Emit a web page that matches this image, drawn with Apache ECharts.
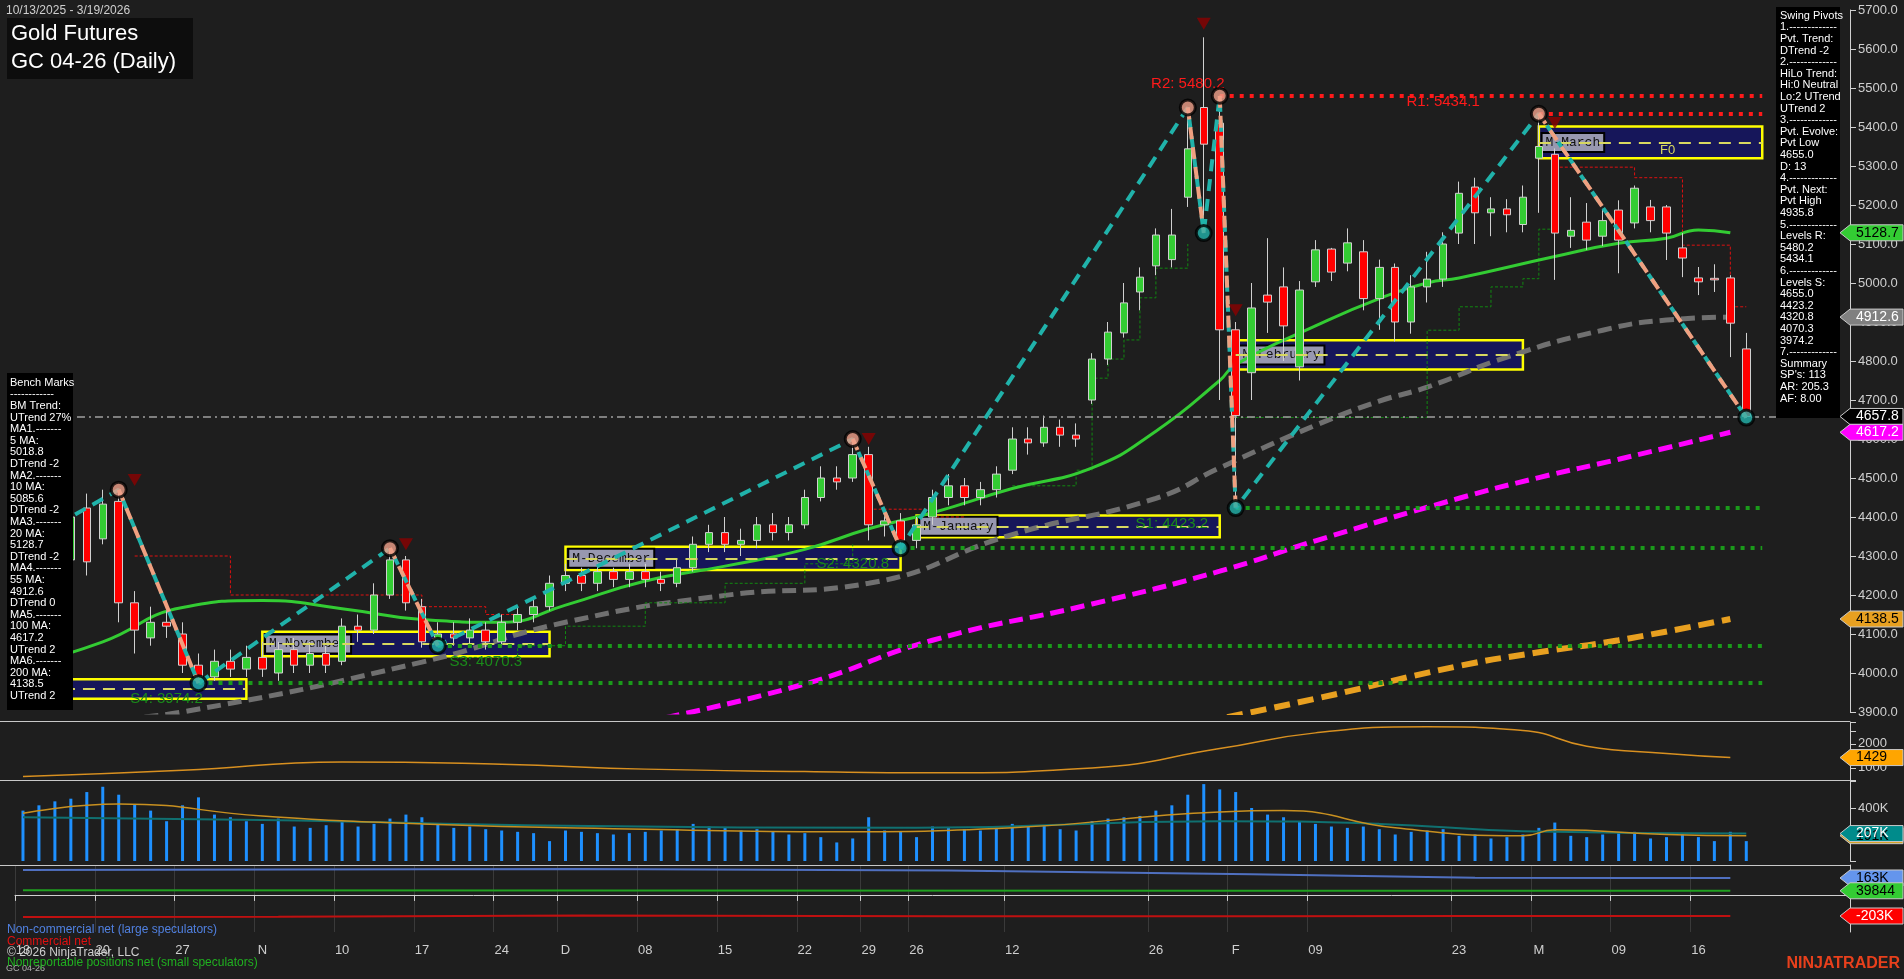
<!DOCTYPE html>
<html>
<head>
<meta charset="utf-8">
<script src="https://cdn.jsdelivr.net/npm/echarts@6/dist/echarts.min.js"></script>
<style>
  html, body { margin: 0; padding: 0; background: #1e1e1e; }
  #chart { width: 1904px; height: 979px; }
</style>
</head>
<body>
<div id="chart"></div>
<script>
const dates = [
  '2025-10-13','2025-10-14','2025-10-15','2025-10-16','2025-10-17','2025-10-20','2025-10-21','2025-10-22','2025-10-23','2025-10-24',
  '2025-10-27','2025-10-28','2025-10-29','2025-10-30','2025-10-31',
  '2025-11-03','2025-11-04','2025-11-05','2025-11-06','2025-11-07','2025-11-10','2025-11-11','2025-11-12','2025-11-13','2025-11-14',
  '2025-11-17','2025-11-18','2025-11-19','2025-11-20','2025-11-21','2025-11-24','2025-11-25','2025-11-26','2025-11-28',
  '2025-12-01','2025-12-02','2025-12-03','2025-12-04','2025-12-05','2025-12-08','2025-12-09','2025-12-10','2025-12-11','2025-12-12',
  '2025-12-15','2025-12-16','2025-12-17','2025-12-18','2025-12-19','2025-12-22','2025-12-23','2025-12-24','2025-12-26','2025-12-29',
  '2025-12-30','2025-12-31',
  '2026-01-02','2026-01-05','2026-01-06','2026-01-07','2026-01-08','2026-01-09','2026-01-12','2026-01-13','2026-01-14','2026-01-15',
  '2026-01-16','2026-01-20','2026-01-21','2026-01-22','2026-01-23','2026-01-26','2026-01-27','2026-01-28','2026-01-29','2026-01-30',
  '2026-02-02','2026-02-03','2026-02-04','2026-02-05','2026-02-06','2026-02-09','2026-02-10','2026-02-11','2026-02-12','2026-02-13',
  '2026-02-17','2026-02-18','2026-02-19','2026-02-20','2026-02-23','2026-02-24','2026-02-25','2026-02-26','2026-02-27',
  '2026-03-02','2026-03-03','2026-03-04','2026-03-05','2026-03-06','2026-03-09','2026-03-10','2026-03-11','2026-03-12','2026-03-13',
  '2026-03-16','2026-03-17','2026-03-18','2026-03-19'
];
const padCats = ['p1','p2','p3','p4','p5','p6'];

// [open, close, low, high]
const ohlc = [
  [4190,4260,4170,4280],[4260,4330,4240,4350],[4330,4290,4270,4370],[4290,4400,4280,4420],[4423,4285,4250,4460],
  [4344,4433,4330,4470],[4440,4180,4130,4470],[4180,4110,4050,4210],[4090,4130,4070,4170],[4130,4120,4090,4160],
  [4100,4020,4000,4130],[4020,3990,3974,4050],[3990,4030,3980,4060],[4030,4010,3990,4060],[4010,4040,3990,4070],
  [4040,4010,3990,4080],[4000,4060,3980,4080],[4060,4020,4000,4090],[4020,4050,4000,4080],[4050,4020,4000,4070],
  [4030,4120,4020,4140],[4120,4110,4080,4150],[4110,4200,4100,4230],[4200,4290,4190,4320],[4290,4180,4160,4300],
  [4170,4080,4065,4190],[4080,4100,4070,4130],[4100,4090,4070,4130],[4090,4110,4070,4140],[4110,4080,4060,4130],
  [4080,4130,4070,4150],[4130,4150,4110,4170],[4150,4170,4130,4190],[4170,4230,4160,4250],
  [4230,4250,4210,4280],[4250,4230,4210,4270],[4230,4260,4210,4280],[4260,4240,4220,4270],[4240,4260,4220,4280],
  [4260,4240,4220,4280],[4240,4230,4210,4260],[4230,4270,4220,4290],[4270,4330,4260,4350],[4330,4360,4310,4380],
  [4360,4330,4310,4400],[4330,4340,4300,4370],[4340,4380,4320,4400],[4380,4360,4340,4410],[4360,4380,4340,4400],
  [4380,4450,4370,4470],[4450,4500,4440,4530],[4500,4490,4470,4530],[4500,4560,4490,4600],[4560,4380,4340,4580],
  [4380,4390,4350,4420],[4390,4340,4320,4410],
  [4340,4380,4320,4400],[4400,4450,4380,4470],[4450,4480,4430,4510],[4480,4450,4430,4500],[4450,4470,4430,4490],
  [4470,4510,4450,4530],[4520,4600,4510,4630],[4600,4590,4560,4630],[4590,4630,4580,4660],[4630,4610,4580,4650],
  [4610,4600,4580,4640],[4700,4805,4690,4820],[4805,4874,4790,4900],[4872,4949,4860,5000],[4977,5015,4930,5040],
  [5044,5123,5020,5140],[5060,5123,5040,5190],[5220,5344,5195,5450],[5450,5356,5128,5630],[5410,4880,4700,5480],
  [4880,4660,4423,4900],[4770,4936,4700,5000],[4969,4951,4872,5115],[4990,4890,4800,5040],[4785,4982,4750,5005],
  [5003,5085,4990,5110],[5087,5028,5005,5090],[5051,5103,5030,5140],[5080,4960,4930,5110],[4960,5040,4880,5060],
  [5040,4900,4850,5050],[4900,4990,4870,5020],[4990,5010,4950,5080],[5010,5100,4990,5130],[5128,5230,5100,5260],
  [5246,5180,5100,5270],[5180,5190,5120,5220],[5190,5175,5130,5215],[5150,5220,5130,5250],
  [5320,5350,5180,5436],[5330,5128,5008,5345],[5120,5135,5090,5220],[5156,5110,5085,5205],[5120,5160,5095,5190],
  [5187,5110,5025,5212],[5154,5243,5140,5250],[5195,5160,5130,5213],[5195,5128,5059,5200],[5090,5064,5015,5128],
  [5013,5003,4969,5041],[5012,5008,4977,5048],[5013,4897,4810,5020],[4831,4657.8,4655,4872]
];

const volume = [
  380,420,450,470,520,560,500,430,380,300,420,480,350,330,300,
  280,320,260,250,270,300,260,280,320,350,330,280,250,260,240,230,220,210,150,
  230,220,210,200,210,220,230,240,280,260,250,230,240,220,200,210,180,140,170,330,230,220,
  180,260,250,240,230,250,280,260,270,240,230,300,320,330,340,380,420,500,580,540,
  520,400,350,330,300,280,260,250,260,240,200,220,230,240,190,200,170,180,200,
  250,290,190,180,200,210,220,170,180,200,180,150,220,150
].map(v => v * 1000);

const ma20 = [['2025-10-13',4018],['2025-10-20',4080],['2025-10-27',4168],['2025-11-03',4186],['2025-11-10',4165],
  ['2025-11-17',4137],['2025-11-24',4130],['2025-12-01',4174],['2025-12-08',4236],['2025-12-15',4274],['2025-12-22',4317],
  ['2025-12-29',4370],['2026-01-05',4411],['2026-01-12',4473],['2026-01-20',4526],['2026-01-26',4620],['2026-01-30',4750],
  ['2026-02-02',4791],['2026-02-09',4890],['2026-02-13',4960],['2026-02-19',5000],['2026-02-23',5013],['2026-03-03',5068],
  ['2026-03-09',5102],['2026-03-12',5115],['2026-03-16',5136],['2026-03-18',5128.7]];
const ma55 = [['2025-10-20',3881],['2025-10-27',3900],['2025-11-17',4028],['2025-12-01',4130],['2025-12-15',4199],
  ['2025-12-29',4230],['2026-01-12',4355],['2026-01-26',4448],['2026-01-30',4526],['2026-02-09',4635],['2026-02-13',4697],
  ['2026-02-19',4733],['2026-02-26',4810],['2026-03-06',4879],['2026-03-12',4905],['2026-03-18',4912.6]];
const ma100 = [['2025-12-08',3875],['2025-12-22',3972],['2026-01-05',4084],['2026-01-20',4177],['2026-01-30',4261],
  ['2026-02-09',4339],['2026-02-23',4448],['2026-03-02',4501],['2026-03-09',4548],['2026-03-18',4617.2]];
const ma200 = [['2026-01-29',3875],['2026-02-09',3934],['2026-02-23',4018],['2026-03-02',4053],['2026-03-09',4084],
  ['2026-03-18',4138.5]];

// trailing stop steps
const stopRed = [['2025-10-22',4300],['2025-10-29',4300],['2025-10-30',4200],['2025-11-14',4200],['2025-11-17',4170],
  ['2025-11-20',4170],['2025-11-21',4150],['2025-11-25',4150],null,['2025-12-29',4420],['2026-01-02',4420],['2026-01-05',4400],
  ['2026-01-07',4400],null,['2026-03-03',5297],['2026-03-09',5297],['2026-03-10',5270],['2026-03-12',5270],
  ['2026-03-13',5097],['2026-03-17',5097],['2026-03-18',4939],['2026-03-19',4939]];
const stopGreen = [['2025-11-19',4040],['2025-11-24',4040],['2025-11-25',4070],['2025-12-01',4120],['2025-12-08',4180],
  ['2025-12-15',4230],['2025-12-22',4280],['2025-12-26',4330],null,['2026-01-12',4480],['2026-01-16',4520],['2026-01-20',4756],
  ['2026-01-21',4805],['2026-01-22',4854],['2026-01-23',4962],['2026-01-26',5038],['2026-01-28',5100],null,
  ['2026-02-02',4655],['2026-02-18',4655],['2026-02-19',4879],['2026-02-23',4939],['2026-02-25',4990],['2026-02-27',5011],
  ['2026-03-02',5138],['2026-03-03',5138]];

const swingLines = [['2025-10-13',4330],['2025-10-21',4470],['2025-10-28',3974],['2025-11-13',4320],['2025-11-18',4070],
  ['2025-12-26',4600],['2025-12-31',4320],['2026-01-28',5450],['2026-01-29',5128],['2026-01-30',5480],['2026-02-02',4423],
  ['2026-03-02',5434],['2026-03-19',4655]];
const swingHighs = [['2025-10-21',4470],['2025-11-13',4320],['2025-12-26',4600],['2026-01-28',5450],['2026-01-30',5480],['2026-03-02',5434]];
const swingLows = [['2025-10-28',3974],['2025-11-18',4070],['2025-12-31',4320],['2026-01-29',5128],['2026-02-02',4423],['2026-03-19',4655]];
const downArrows = [['2025-10-22',4495],['2025-11-14',4330],['2025-12-29',4600],['2026-01-29',5665],['2026-02-02',4930],['2026-03-03',5410]];

const levelsR = [['R2: 5480.2',5480.2,'2026-01-30'],['R1: 5434.1',5434.1,'2026-03-02']];
const levelsS = [['S1: 4423.2',4423.2,'2026-02-02'],['S2: 4320.8',4320.8,'2025-12-31'],['S3: 4070.3',4070.3,'2025-11-18'],['S4: 3974.2',3974.2,'2025-10-28']];
const lastPrice = 4657.8;

const months = [
  ['', '2025-10-13','2025-10-31',3934,3984],
  ['M-November','2025-11-03','2025-11-28',4043,4106],
  ['M-December','2025-12-01','2025-12-31',4264,4324],
  ['M-January','2026-01-02','2026-01-30',4348,4404],
  ['M-February','2026-02-02','2026-02-27',4778,4853],
  ['M-March','2026-03-02','p1',5320,5401]
];

const adx = [['2025-10-13',640],['2025-10-27',900],['2025-11-10',1250],['2025-11-24',1150],['2025-12-08',950],
  ['2025-12-22',850],['2026-01-05',800],['2026-01-20',1000],['2026-01-30',1800],['2026-02-09',2450],['2026-02-19',2700],
  ['2026-02-27',2550],['2026-03-05',1900],['2026-03-12',1600],['2026-03-18',1429]];
const volAvgLong = [['2025-10-13',330000],['2025-11-03',310000],['2025-12-01',265000],['2026-01-02',250000],
  ['2026-01-30',300000],['2026-02-13',280000],['2026-02-27',225000],['2026-03-19',207000]];
const volAvgShort = [['2025-10-13',360000],['2025-10-21',430000],['2025-11-03',340000],['2025-11-17',280000],
  ['2025-12-08',240000],['2025-12-24',220000],['2026-01-12',250000],['2026-01-30',370000],['2026-02-05',380000],
  ['2026-02-17',250000],['2026-02-27',190000],['2026-03-03',235000],['2026-03-12',200000],['2026-03-19',191000]];
const cotLarge = [['2025-10-13',240000],['2025-11-04',245000],['2025-12-02',250000],['2026-01-06',235000],
  ['2026-02-03',200000],['2026-02-24',165000],['2026-03-10',163000],['2026-03-18',163000]];
const cotComm = [['2025-10-13',-212000],['2025-11-04',-210000],['2025-12-02',-198000],['2026-01-06',-206000],
  ['2026-02-03',-205000],['2026-02-24',-203000],['2026-03-18',-203000]];
const cotSmall = [['2025-10-13',45000],['2025-12-02',43000],['2026-02-03',40000],['2026-03-18',39844]];

const tickDates = ['2025-10-13','2025-10-20','2025-10-27','2025-11-03','2025-11-10','2025-11-17','2025-11-24','2025-12-01',
  '2025-12-08','2025-12-15','2025-12-22','2025-12-29','2026-01-02','2026-01-12','2026-01-26','2026-02-02','2026-02-09',
  '2026-02-23','2026-03-02','2026-03-09','2026-03-16'];
const tickLabels = ['13','20','27','N','10','17','24','D','08','15','22','29','26','12','26','F','09','23','M','09','16'];

const benchText = ['Bench Marks','------------','BM Trend:','UTrend 27%','MA1.-------','5 MA:','5018.8','DTrend -2',
  'MA2.-------','10 MA:','5085.6','DTrend -2','MA3.-------','20 MA:','5128.7','DTrend -2','MA4.-------','55 MA:','4912.6',
  'DTrend 0','MA5.-------','100 MA:','4617.2','UTrend 2','MA6.-------','200 MA:','4138.5','UTrend 2'];
const pivotText = ['Swing Pivots','1.-------------','Pvt. Trend:','DTrend -2','2.-------------','HiLo Trend:','Hi:0 Neutral',
  'Lo:2 UTrend','UTrend 2','3.-------------','Pvt. Evolve:','Pvt Low','4655.0','D: 13','4.-------------','Pvt. Next:',
  'Pvt High','4935.8','5.-------------','Levels R:','5480.2','5434.1','6.-------------','Levels S:','4655.0','4423.2',
  '4320.8','4070.3','3974.2','7.-------------','Summary',"SP's: 113",'AR: 205.3','AF: 8.00'];

const cats = dates.concat(padCats);
const tickSet = {};
tickDates.forEach((d, i) => { tickSet[d] = tickLabels[i] });
const isTick = (i, v) => tickSet[v] !== undefined;

const chart = echarts.init(document.getElementById('chart'));
const font = 'Liberation Sans';
const axisCol = '#d0d0d0';
const L = 15;

function xAxisFor(gi, show) {
  return {
    type: 'category', gridIndex: gi, data: cats, boundaryGap: true,
    axisLine: { show: gi === 3, lineStyle: { color: axisCol } },
    axisTick: { show: show, interval: isTick, lineStyle: { color: axisCol }, length: 6 },
    axisLabel: { show: show, interval: isTick, color: '#cfcfcf', fontSize: 13, fontFamily: font, margin: 12,
      formatter: v => tickSet[v] || '' },
    splitLine: { show: gi === 3, interval: isTick, lineStyle: { color: '#3a3a3a' } }
  };
}
function yAxisFor(gi, min, max, interval, fmt) {
  return {
    type: 'value', gridIndex: gi, position: 'right', min: min, max: max, interval: interval,
    axisLine: { show: true, lineStyle: { color: axisCol } },
    axisTick: { show: true, length: 6, inside: false, lineStyle: { color: axisCol } },
    axisLabel: { color: '#cfcfcf', fontSize: 13, fontFamily: font, margin: 8, formatter: fmt },
    splitLine: { show: false }
  };
}

const boxAreas = months.map(m => [{
  name: m[0], xAxis: m[1], yAxis: m[4],
  label: { show: m[0] !== '', position: 'insideLeft', color: '#111', fontFamily: 'Liberation Mono', fontSize: 13,
    backgroundColor: '#9898b0', borderColor: '#000', borderWidth: 2, padding: [2, 3] }
}, { xAxis: m[2], yAxis: m[3] }]);
const boxMids = months.map(m => [{ coord: [m[1], (m[3] + m[4]) / 2] }, { coord: [m[2], (m[3] + m[4]) / 2] }]);

const levelLines = [];
levelsR.forEach(l => levelLines.push([{ coord: [l[2], l[1]], lineStyle: { color: '#ff1a1a', type: [4, 6], width: 4 } },
  { coord: ['p1', l[1]] }]));
levelsS.forEach(l => levelLines.push([{ coord: [l[2], l[1]], lineStyle: { color: '#1a9a1a', type: [4, 6], width: 4 } },
  { coord: ['p1', l[1]] }]));

const levelLabels = levelsR.map((l, i) => ({
  coord: [i === 0 ? '2026-01-28' : '2026-02-20', l[1]], value: l[0],
  label: { color: '#ff1a1a', offset: [0, -12] }
})).concat(levelsS.map((l, i) => ({
  coord: [['2026-01-27', '2025-12-26', '2025-11-21', '2025-10-24'][i], l[1]], value: l[0],
  label: { color: '#1a8a1a', offset: [0, 16] }
})));

chart.setOption({
  backgroundColor: '#1e1e1e',
  animation: false,
  grid: [
    { left: L, right: 54, top: 10, height: 702 },
    { left: L, right: 54, top: 722, height: 58 },
    { left: L, right: 54, top: 780, height: 81 },
    { left: L, right: 54, top: 865, height: 67 }
  ],
  xAxis: [xAxisFor(0, false), xAxisFor(1, false), xAxisFor(2, false), xAxisFor(3, true)],
  yAxis: [
    yAxisFor(0, 3900, 5700, 100, v => v.toFixed(1)),
    yAxisFor(1, 500, 2900, 500, v => (v === 1000 || v === 2000) ? String(v) : ''),
    yAxisFor(2, 0, 611000, 200000, v => v === 400000 ? '400K' : ''),
    Object.assign(yAxisFor(3, -357000, 288000, null, () => ''), { axisTick: { show: false } })
  ],
  series: [
    {
      type: 'line', name: 'ma200', data: ma200, smooth: true, symbol: 'none',
      lineStyle: { color: '#e8a020', width: 6, type: [16, 8] }, z: 2
    },
    {
      type: 'line', name: 'ma100', data: ma100, smooth: true, symbol: 'none',
      lineStyle: { color: '#ff00ff', width: 5, type: [14, 7] }, z: 2
    },
    {
      type: 'line', name: 'ma55', data: ma55, smooth: true, symbol: 'none',
      lineStyle: { color: '#707070', width: 5, type: [14, 7] }, z: 2
    },
    {
      type: 'line', name: 'stopRed', data: stopRed, step: 'end', symbol: 'none', connectNulls: false,
      lineStyle: { color: '#e01010', width: 1, type: [3, 2] }, z: 2
    },
    {
      type: 'line', name: 'stopGreen', data: stopGreen, step: 'end', symbol: 'none', connectNulls: false,
      lineStyle: { color: '#118811', width: 1, type: [3, 2] }, z: 2
    },
    {
      type: 'line', name: 'ma20', data: ma20, smooth: true, symbol: 'none',
      lineStyle: { color: '#33cc33', width: 3 }, z: 3
    },
    {
      type: 'line', name: 'levels', data: [], symbol: 'none',
      markArea: { silent: true, itemStyle: { color: '#16165a', borderColor: '#ffff00', borderWidth: 2.5 }, data: boxAreas },
      markLine: { silent: true, symbol: 'none', label: { show: false },
        data: boxMids.map(b => [Object.assign({ lineStyle: { color: '#d8d860', type: [12, 8], width: 2 } }, b[0]), b[1]])
          .concat(levelLines)
          .concat([[{ coord: [cats[0], lastPrice], lineStyle: { color: '#a0a0a0', type: [8, 4, 2, 4], width: 1.5 } },
            { coord: ['p6', lastPrice] }]]) },
      markPoint: { symbolSize: 0, data: levelLabels,
        label: { show: true, formatter: p => p.value, fontSize: 15, fontFamily: font } },
      z: 1
    },
    {
      type: 'candlestick', name: 'GC', data: ohlc, barMaxWidth: 9,
      itemStyle: { color: '#33cc33', color0: '#ff0000', borderColor: '#d0d0d0', borderColor0: '#d0d0d0', borderWidth: 1 },
      z: 4
    },
    {
      type: 'line', name: 'swing', data: swingLines, symbol: 'none',
      lineStyle: { color: '#20b2aa', width: 4, type: [12, 8] }, z: 5
    },
    {
      type: 'line', name: 'swingDown', data: [['2025-10-21',4470],['2025-10-28',3974],null,['2025-11-13',4320],['2025-11-18',4070],
        null,['2025-12-26',4600],['2025-12-31',4320],null,['2026-01-28',5450],['2026-01-29',5128],null,['2026-01-30',5480],
        ['2026-02-02',4423],null,['2026-03-02',5434],['2026-03-19',4655]],
      symbol: 'none', connectNulls: false,
      lineStyle: { color: '#f0a080', width: 4, type: [12, 8] }, z: 6
    },
    {
      type: 'scatter', data: swingHighs, symbol: 'circle', symbolSize: 15,
      itemStyle: { color: '#f0a08a', borderColor: '#000', borderWidth: 3 }, z: 7
    },
    {
      type: 'scatter', data: swingLows, symbol: 'circle', symbolSize: 15,
      itemStyle: { color: '#20b2aa', borderColor: '#000', borderWidth: 3 }, z: 7
    },
    {
      type: 'scatter', data: downArrows, symbol: 'triangle', symbolRotate: 180, symbolSize: [14, 12],
      itemStyle: { color: '#8b0000' }, z: 7
    },
    {
      type: 'line', xAxisIndex: 1, yAxisIndex: 1, data: adx, smooth: true, symbol: 'none',
      lineStyle: { color: '#d89020', width: 1.5 }
    },
    {
      type: 'bar', xAxisIndex: 2, yAxisIndex: 2, data: volume, barWidth: 3,
      itemStyle: { color: '#1e90ff' }
    },
    {
      type: 'line', xAxisIndex: 2, yAxisIndex: 2, data: volAvgLong, smooth: true, symbol: 'none',
      lineStyle: { color: '#107070', width: 2 }
    },
    {
      type: 'line', xAxisIndex: 2, yAxisIndex: 2, data: volAvgShort, smooth: true, symbol: 'none',
      lineStyle: { color: '#c89020', width: 1.5 }
    },
    {
      type: 'line', xAxisIndex: 3, yAxisIndex: 3, data: cotLarge, symbol: 'none',
      lineStyle: { color: '#5070c0', width: 2 }
    },
    {
      type: 'line', xAxisIndex: 3, yAxisIndex: 3, data: cotSmall, symbol: 'none',
      lineStyle: { color: '#20a020', width: 2 }
    },
    {
      type: 'line', xAxisIndex: 3, yAxisIndex: 3, data: cotComm, symbol: 'none',
      lineStyle: { color: '#c01010', width: 2 }
    }
  ]
});

// right-side value tags and overlay texts
const tags = [
  [0, 5128.7, '5128.7', '#33cc33', '#000'],
  [0, 4912.6, '4912.6', '#808080', '#fff'],
  [0, lastPrice, '4657.8', '#000', '#fff'],
  [0, 4617.2, '4617.2', '#ff00ff', '#fff'],
  [0, 4138.5, '4138.5', '#e8a020', '#000'],
  [1, 1429, '1429', '#ffa500', '#000'],
  [2, 191000, '191K', '#d4a020', '#000'],
  [2, 207000, '207K', '#008b8b', '#fff'],
  [3, 163000, '163K', '#6495ed', '#000'],
  [3, 39844, '39844', '#33cc33', '#000'],
  [3, -203000, '-203K', '#ff0000', '#fff']
];
const graphics = [];
tags.forEach(t => {
  const y = chart.convertToPixel({ yAxisIndex: t[0] }, t[1]);
  graphics.push({
    type: 'polygon', shape: { points: [[1840, y], [1850, y - 8], [1903, y - 8], [1903, y + 8], [1850, y + 8]] },
    style: { fill: t[3], stroke: '#c8c8c8', lineWidth: 1 }, z: 100
  });
  graphics.push({
    type: 'text', x: 1856, y: y, style: { text: t[2], fill: t[4], font: '14px ' + font, verticalAlign: 'middle' }, z: 101
  });
});
graphics.push(
  { type: 'rect', shape: { x: 0, y: 721, width: 1850, height: 1 }, style: { fill: '#c8c8c8' } },
  { type: 'rect', shape: { x: 0, y: 780, width: 1850, height: 1 }, style: { fill: '#c8c8c8' } },
  { type: 'rect', shape: { x: 0, y: 865, width: 1850, height: 1 }, style: { fill: '#c8c8c8' } },
  { type: 'text', left: 6, top: 5, style: { text: '10/13/2025 - 3/19/2026', fill: '#cfcfcf', font: '12px ' + font } },
  { type: 'rect', shape: { x: 7, y: 18, width: 186, height: 61 }, style: { fill: '#0d0d0d' }, z: 50 },
  { type: 'text', left: 11, top: 20, z: 51,
    style: { text: 'Gold Futures\nGC 04-26 (Daily)', fill: '#fff', font: '22px ' + font, lineHeight: 28 } },
  { type: 'rect', shape: { x: 7, y: 373, width: 66, height: 337 }, style: { fill: '#000' }, z: 50 },
  { type: 'text', left: 10, top: 377, z: 51,
    style: { text: benchText.join('\n'), fill: '#fff', font: '11px ' + font, lineHeight: 11.6 } },
  { type: 'rect', shape: { x: 1776, y: 7, width: 64, height: 411 }, style: { fill: '#000' }, z: 50 },
  { type: 'text', left: 1780, top: 10, z: 51,
    style: { text: pivotText.join('\n'), fill: '#fff', font: '11px ' + font, lineHeight: 11.6 } },
  { type: 'text', left: 1660, top: 144, z: 51, style: { text: 'F0', fill: '#d8d860', font: '13px ' + font } },
  { type: 'text', left: 7, top: 924, z: 51,
    style: { text: 'Non-commercial net (large speculators)', fill: '#5080e0', font: '12px ' + font } },
  { type: 'text', left: 7, top: 936, z: 51, style: { text: 'Commercial net', fill: '#e01010', font: '12px ' + font } },
  { type: 'text', left: 7, top: 947, z: 52, style: { text: '© 2026 NinjaTrader, LLC', fill: '#cfcfcf', font: '12px ' + font } },
  { type: 'text', left: 7, top: 957, z: 51,
    style: { text: 'Nonreportable positions net (small speculators)', fill: '#20b020', font: '12px ' + font } },
  { type: 'text', left: 6, top: 964, style: { text: 'GC 04-26', fill: '#b0b0b0', font: '9px ' + font } },
  { type: 'text', right: 4, top: 956, style: { text: 'NINJATRADER', fill: '#e8401c', font: 'bold 16px ' + font } }
);
chart.setOption({ graphic: graphics });
</script>
</body>
</html>
